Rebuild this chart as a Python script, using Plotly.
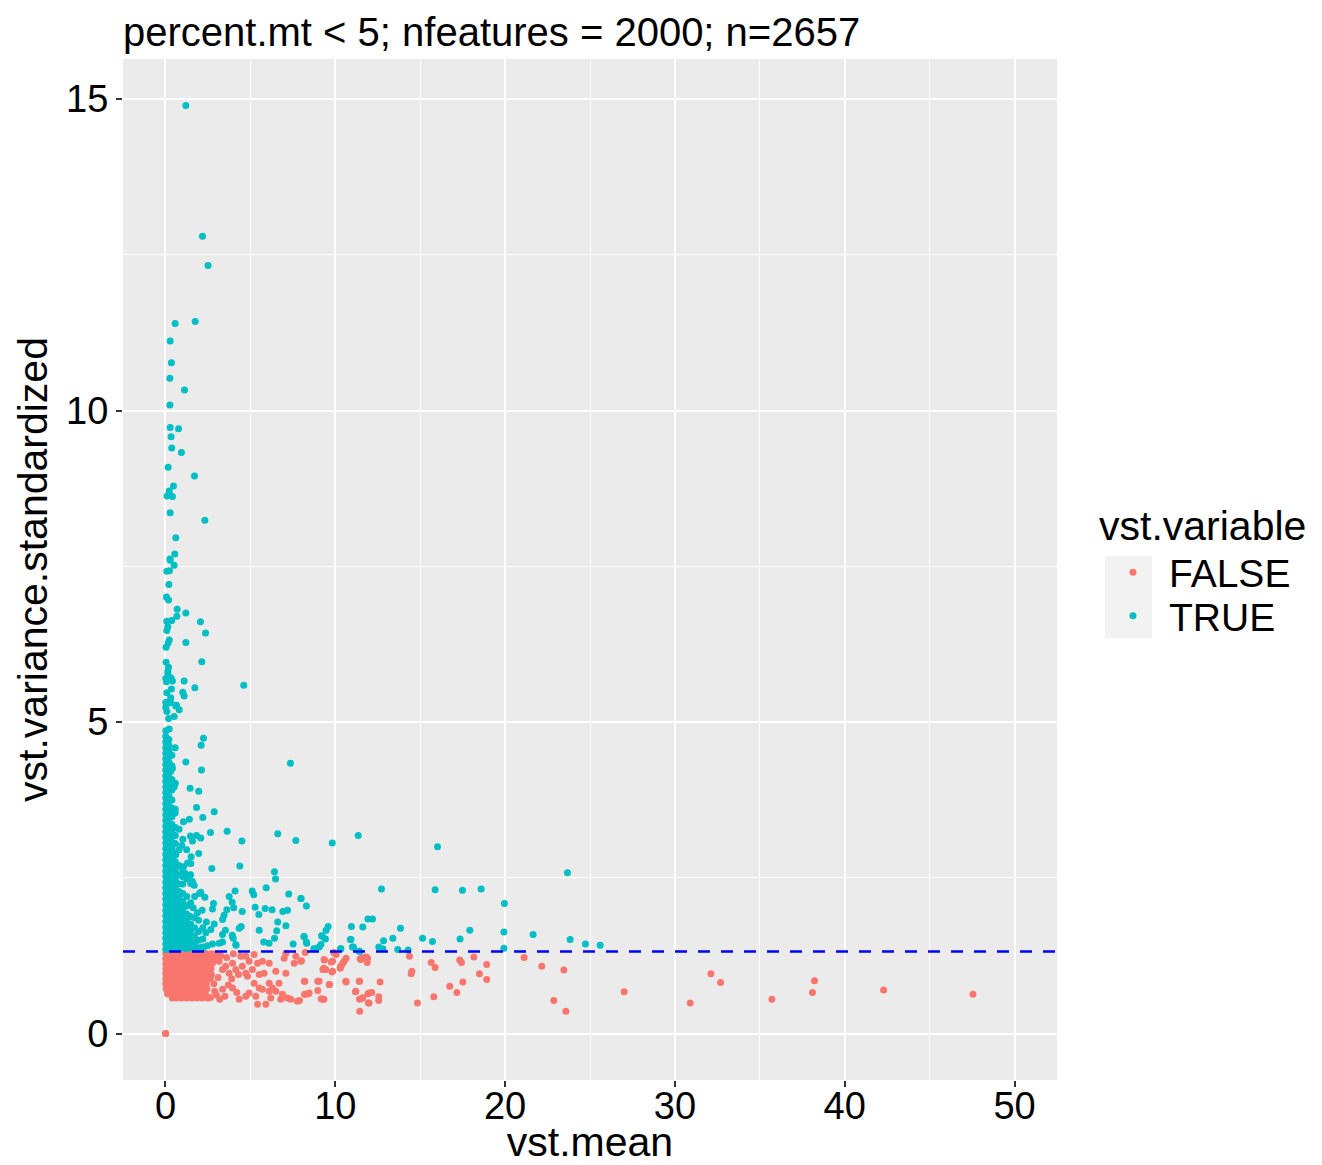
import plotly.graph_objects as go

# ---------------- data ----------------
# FALSE (not variable): scattered points (vst.mean, vst.variance.standardized)
false_sparse = [
    (0.00, 0.00), (0.02, 0.00),
    (2.77, 1.13), (3.16, 1.16), (3.36, 1.03), (3.55, 1.08), (3.75, 0.97), (3.95, 1.13),
    (4.14, 1.03), (4.44, 1.24), (4.73, 1.24), (4.93, 1.16), (5.22, 1.27), (4.53, 1.08),
    (4.73, 0.97), (5.12, 1.03), (5.42, 1.13), (5.71, 1.16), (6.11, 1.13), (4.83, 0.92),
    (5.22, 0.81), (5.52, 0.95), (5.81, 0.97), (6.11, 0.81), (6.50, 1.00), (7.09, 0.97),
    (6.99, 1.21), (7.09, 1.29), (7.68, 1.24), (7.58, 1.13), (7.97, 1.16), (8.17, 0.84),
    (8.46, 0.65), (8.26, 0.63), (9.05, 0.84), (9.25, 0.55), (9.34, 1.19), (9.84, 1.16),
    (9.44, 1.03), (9.84, 1.00), (9.64, 0.79), (10.33, 1.08), (10.52, 1.16), (10.62, 0.84),
    (11.21, 0.68), (11.41, 0.84), (11.50, 1.19), (11.90, 1.21), (11.99, 0.65), (11.60, 0.57),
    (11.99, 0.49), (3.36, 0.71), (3.95, 0.73), (4.34, 0.55), (4.73, 0.60), (4.93, 0.65),
    (5.32, 0.60), (5.42, 0.47), (5.91, 0.47), (5.52, 0.73), (5.71, 0.71), (6.11, 0.68),
    (6.30, 0.73), (6.69, 0.81), (6.79, 0.55), (7.18, 0.57), (7.38, 0.55), (7.77, 0.52),
    (6.20, 0.57), (6.50, 0.68), (6.89, 0.63),
    (2.70, 0.95), (2.85, 0.80), (3.00, 0.62), (3.10, 0.90), (3.25, 1.25), (2.95, 1.20),
    (3.50, 0.60), (3.70, 0.78), (3.90, 0.88), (4.20, 0.66), (4.30, 0.95), (2.65, 0.58),
    (3.20, 0.55), (2.90, 0.68), (3.60, 1.22), (4.00, 1.28),
    (8.23, 1.30), (8.01, 1.17), (7.89, 0.53), (8.21, 0.84), (8.19, 0.63), (8.42, 0.64),
    (8.97, 0.84), (8.97, 0.69), (9.17, 0.56), (9.33, 0.55), (9.36, 1.18), (9.33, 1.05),
    (9.27, 1.03), (9.76, 1.15), (9.80, 0.99), (9.66, 0.79), (9.91, 1.30), (10.05, 1.27),
    (10.64, 1.21), (10.44, 1.13), (10.34, 1.08), (10.29, 1.05), (10.64, 0.83), (11.19, 0.67),
    (11.43, 0.84), (11.43, 0.55), (11.62, 0.57), (11.44, 0.36), (11.46, 1.20), (11.62, 1.22),
    (11.82, 1.23), (11.88, 1.14), (11.95, 0.49), (11.92, 0.64), (12.15, 0.66), (12.56, 0.59),
    (12.56, 0.53), (12.64, 0.83), (14.37, 1.24), (14.51, 1.00), (14.47, 0.96), (14.84, 0.49),
    (15.65, 1.14), (15.88, 1.06), (15.80, 0.59), (16.74, 0.76), (17.16, 0.66), (17.33, 1.18),
    (17.43, 1.14), (17.51, 0.83), (18.16, 1.23), (18.49, 0.96), (18.92, 1.11), (18.92, 0.87),
    (21.12, 1.22), (22.16, 1.08), (22.87, 0.53), (23.46, 1.02), (23.58, 0.36), (27.01, 0.67),
    (30.90, 0.49), (32.12, 0.96), (32.69, 0.82), (35.71, 0.55), (38.10, 0.66), (38.22, 0.85),
    (42.29, 0.70), (47.55, 0.63),
]

# FALSE: dense block near the origin, read row by row (y: list of x)
false_dense_rows = {
    1.28: [0.02, 0.30, 0.60, 0.90, 1.20, 1.50, 1.80, 2.10, 2.40, 2.70, 3.00],
    1.20: [0.02, 0.30, 0.60, 0.90, 1.20, 1.50, 1.80, 2.10, 2.40, 2.75],
    1.12: [0.02, 0.30, 0.60, 0.90, 1.20, 1.50, 1.80, 2.10, 2.40, 2.62],
    1.04: [0.02, 0.30, 0.60, 0.90, 1.20, 1.50, 1.80, 2.10, 2.40, 2.68],
    0.96: [0.02, 0.30, 0.60, 0.90, 1.20, 1.50, 1.80, 2.10, 2.40, 2.60],
    0.88: [0.02, 0.30, 0.60, 0.90, 1.20, 1.50, 1.80, 2.10, 2.40, 2.64],
    0.80: [0.02, 0.30, 0.60, 0.90, 1.20, 1.50, 1.80, 2.10, 2.40],
    0.72: [0.04, 0.30, 0.60, 0.90, 1.20, 1.50, 1.80, 2.10, 2.45],
    0.64: [0.12, 0.35, 0.60, 0.90, 1.20, 1.50, 1.80, 2.10, 2.35],
    0.57: [0.40, 0.65, 0.95, 1.25, 1.55, 1.85, 2.15, 2.50],
}

# TRUE (variable): scattered points
true_sparse = [
    (1.20, 14.90), (2.18, 12.80), (2.51, 12.33), (0.57, 11.40), (1.75, 11.43), (0.28, 11.12),
    (0.35, 10.77), (0.26, 10.52), (1.12, 10.33), (0.26, 10.09), (0.28, 9.73), (0.77, 9.71),
    (0.33, 9.58), (0.37, 9.40), (0.94, 9.33), (0.16, 9.09), (1.71, 8.95), (0.47, 8.79),
    (0.22, 8.71), (0.10, 8.63), (0.41, 8.62), (0.28, 8.36), (2.32, 8.24), (0.61, 7.96),
    (0.55, 7.70), (0.26, 7.62), (0.28, 7.60), (0.51, 7.52), (0.08, 7.42), (0.24, 7.43),
    (0.20, 7.21), (0.06, 7.01), (0.18, 6.96), (0.69, 6.81), (1.20, 6.75), (0.67, 6.70),
    (0.08, 6.62), (0.37, 6.63), (2.06, 6.61), (0.14, 6.53), (0.08, 6.47), (2.36, 6.43),
    (0.22, 6.32), (0.16, 6.27), (1.20, 6.28), (0.04, 6.20), (0.04, 5.96), (2.14, 5.97),
    (0.18, 5.88), (0.14, 5.82), (0.14, 5.78), (0.02, 5.70), (0.24, 5.71), (0.33, 5.71),
    (0.06, 5.65), (0.41, 5.66), (1.10, 5.66), (4.61, 5.59), (1.73, 5.55), (0.35, 5.53),
    (0.08, 5.47), (1.02, 5.48), (1.10, 5.42), (0.31, 5.39), (0.02, 5.32), (0.26, 5.32),
    (0.65, 5.27), (0.31, 5.31), (0.61, 5.26), (0.81, 5.20), (0.08, 5.17), (0.51, 5.09),
    (0.18, 5.06), (0.02, 5.24), (0.22, 4.89),
    (2.24, 4.74), (2.10, 4.63), (0.57, 4.59), (1.20, 4.36), (7.36, 4.34), (2.12, 4.23),
    (0.41, 4.26), (0.31, 4.21), (1.45, 3.94), (1.96, 3.89), (0.51, 3.96), (1.83, 3.63),
    (2.87, 3.56), (0.57, 3.54), (2.20, 3.47), (1.41, 3.44), (1.06, 3.40), (2.65, 3.23),
    (3.63, 3.25), (6.61, 3.21), (1.47, 3.17), (1.59, 3.09), (1.83, 3.18), (2.08, 3.14),
    (4.50, 3.09), (7.68, 3.10), (0.96, 3.02), (1.96, 2.89), (1.51, 2.84), (0.61, 2.87),
    (1.30, 2.74), (1.49, 2.73), (1.06, 2.68), (4.38, 2.69), (2.73, 2.65), (6.42, 2.60),
    (6.48, 2.48), (1.16, 2.57), (1.00, 2.52), (1.59, 2.44), (1.49, 2.41), (1.69, 2.38),
    (5.93, 2.34), (4.10, 2.29), (5.11, 2.29), (5.20, 2.23), (2.08, 2.27), (2.00, 2.25),
    (2.32, 2.19), (7.26, 2.24), (3.75, 2.20), (7.97, 2.17), (2.83, 2.09), (3.93, 2.11),
    (8.30, 2.05), (5.28, 2.03), (5.87, 2.01), (6.28, 1.99), (6.91, 1.96), (7.19, 1.98),
    (2.77, 2.00), (3.61, 1.99), (4.02, 2.02), (4.52, 1.96), (2.16, 1.98), (1.63, 2.02),
    (1.88, 1.94), (5.50, 1.91), (3.45, 1.90), (3.36, 1.83), (2.41, 1.79), (2.87, 1.76),
    (2.67, 1.67), (6.61, 1.79), (7.09, 1.73), (4.46, 1.72), (4.34, 1.69), (5.52, 1.66),
    (3.53, 1.66), (6.55, 1.65), (3.93, 1.58), (3.99, 1.53), (6.42, 1.53), (8.17, 1.56),
    (5.79, 1.47), (6.10, 1.45), (7.52, 1.44), (4.16, 1.42), (8.30, 1.47), (8.76, 1.36),
    (9.05, 1.39), (3.36, 1.47), (3.16, 1.45), (2.77, 1.44), (2.47, 1.41), (2.18, 1.39),
    (2.38, 1.62), (3.36, 1.59), (3.95, 1.56), (4.14, 1.43), (9.15, 1.43), (9.25, 1.56),
    (10.33, 1.36), (10.92, 1.51), (11.01, 1.39), (11.41, 1.32),
    (9.82, 3.06), (11.35, 3.18), (16.02, 3.00), (23.67, 2.58), (12.72, 2.32), (15.88, 2.31),
    (17.49, 2.30), (18.59, 2.32), (19.96, 2.09), (7.99, 2.17), (11.92, 1.84), (12.19, 1.84),
    (10.95, 1.72), (11.62, 1.71), (9.58, 1.72), (9.46, 1.66), (13.84, 1.69), (17.92, 1.66),
    (19.93, 1.63), (21.65, 1.59), (8.15, 1.56), (9.19, 1.57), (9.42, 1.52), (10.89, 1.51),
    (12.84, 1.49), (13.39, 1.53), (15.14, 1.53), (15.72, 1.48), (17.35, 1.52), (23.83, 1.51),
    (24.73, 1.44), (25.60, 1.42), (8.32, 1.45), (8.74, 1.36), (10.31, 1.36), (11.07, 1.39),
    (11.43, 1.32), (12.56, 1.39), (12.80, 1.36), (13.68, 1.35), (14.29, 1.34), (19.93, 1.37),
]

# TRUE: dense column near x = 0, read column by column (x: list of y)
true_dense_cols = {
    0.02: [1.35, 1.44, 1.53, 1.62, 1.71, 1.80, 1.89, 1.98, 2.07, 2.16, 2.25, 2.34, 2.43, 2.52,
           2.61, 2.70, 2.79, 2.88, 2.97, 3.06, 3.15, 3.24, 3.33, 3.42, 3.51, 3.60, 3.69, 3.78,
           3.87, 3.96, 4.05, 4.14, 4.23, 4.32, 4.41, 4.50, 4.59, 4.68, 4.77, 4.86],
    0.20: [1.39, 1.48, 1.57, 1.66, 1.75, 1.84, 1.93, 2.02, 2.11, 2.20, 2.29, 2.38, 2.47, 2.56,
           2.65, 2.74, 2.83, 2.92, 3.01, 3.10, 3.19, 3.28, 3.37, 3.46, 3.55, 3.64, 3.73, 3.82,
           3.91, 4.00, 4.09, 4.18, 4.27, 4.36, 4.45, 4.54, 4.63, 4.72],
    0.38: [1.36, 1.45, 1.54, 1.63, 1.72, 1.81, 1.90, 1.99, 2.08, 2.17, 2.26, 2.35, 2.44, 2.53,
           2.62, 2.71, 2.80, 2.89, 2.98, 3.07, 3.16, 3.25, 3.36, 3.48, 3.62, 3.75, 3.91, 4.08,
           4.30, 4.47],
    0.58: [1.38, 1.47, 1.56, 1.65, 1.74, 1.83, 1.92, 2.01, 2.10, 2.19, 2.28, 2.37, 2.46, 2.55,
           2.64, 2.76, 2.90, 3.05, 3.18, 3.31, 3.60, 4.02],
    0.80: [1.36, 1.45, 1.54, 1.63, 1.72, 1.81, 1.90, 1.99, 2.08, 2.17, 2.28, 2.40, 2.55, 2.70,
           2.95, 3.28],
    1.02: [1.38, 1.47, 1.56, 1.65, 1.74, 1.83, 1.92, 2.01, 2.12, 2.25, 2.40, 2.62, 3.12],
    1.25: [1.36, 1.45, 1.54, 1.63, 1.72, 1.81, 1.92, 2.05, 2.20, 2.48, 2.95],
    1.48: [1.38, 1.47, 1.56, 1.65, 1.76, 1.88, 2.10, 2.55],
    1.72: [1.36, 1.46, 1.57, 1.70, 1.86, 2.20],
    1.95: [1.38, 1.50, 1.64, 1.82],
    2.20: [1.37, 1.52, 1.70],
}

threshold = 1.316
title_text = "percent.mt < 5; nfeatures = 2000; n=2657"
x_ticks = [0, 10, 20, 30, 40, 50]
y_ticks = [0, 5, 10, 15]

# ---------------- assemble ----------------
fx = [p[0] for p in false_sparse]
fy = [p[1] for p in false_sparse]
for yv, xs in false_dense_rows.items():
    fx += xs
    fy += [yv] * len(xs)

tx = []
ty = []
for xv, ys in true_dense_cols.items():
    tx += [xv] * len(ys)
    ty += ys
tx += [p[0] for p in true_sparse]
ty += [p[1] for p in true_sparse]

FONT = "Liberation Sans, Arial, Helvetica, sans-serif"

# figure geometry (page adds an 8px body margin)
W, H = 1314, 1157
ML, MR, MT, MB = 115, 265, 51, 85
PW, PH = W - ML - MR, H - MT - MB


def px_x(fig_x):
    return (fig_x - ML) / PW


def px_y(fig_y):
    return (H - MB - fig_y) / PH


fig = go.Figure()
fig.add_trace(go.Scatter(x=fx, y=fy, mode="markers", name="FALSE", legend="legend",
                         marker=dict(color="#F8766D", size=7, line=dict(width=0))))
fig.add_trace(go.Scatter(x=tx, y=ty, mode="markers", name="TRUE", legend="legend2",
                         marker=dict(color="#00BFC4", size=7, line=dict(width=0))))

fig.add_shape(type="line", xref="paper", x0=0, x1=1, yref="y", y0=threshold, y1=threshold,
              line=dict(color="blue", width=2.5, dash="12px,11px"), layer="above")

# legend key background
fig.add_shape(type="rect", xref="paper", yref="paper",
              x0=px_x(1097), x1=px_x(1144), y0=px_y(630), y1=px_y(548),
              fillcolor="#F2F2F2", line=dict(width=0), layer="below")

axis_common = dict(showgrid=True, gridcolor="white", gridwidth=2.2, zeroline=False,
                   ticks="outside", ticklen=6, tickwidth=2, tickcolor="#333333",
                   tickfont=dict(family=FONT, size=38, color="black"),
                   showline=False)

legend_common = dict(xanchor="left", yanchor="top", bgcolor="rgba(0,0,0,0)",
                     font=dict(family=FONT, size=39, color="black"),
                     itemsizing="trace", itemwidth=62)

fig.update_layout(
    width=W, height=H,
    margin=dict(l=ML, r=MR, t=MT, b=MB, autoexpand=False),
    paper_bgcolor="white", plot_bgcolor="#EBEBEB",
    font=dict(family=FONT, color="black"),
    title=dict(text=title_text, x=0, xref="paper", xanchor="left",
               y=1, yref="container", yanchor="top", pad=dict(t=10, b=0),
               font=dict(family=FONT, size=40, color="black")),
    xaxis=dict(range=[-2.5, 52.5], tickvals=x_ticks, ticklabelstandoff=-14,
               minor=dict(dtick=5, tick0=0, showgrid=True, gridcolor="white", gridwidth=1.1, ticks=""),
               title=dict(text="vst.mean", font=dict(family=FONT, size=41), standoff=16),
               **axis_common),
    yaxis=dict(range=[-0.745, 15.645], tickvals=y_ticks,
               minor=dict(dtick=2.5, tick0=0, showgrid=True, gridcolor="white", gridwidth=1.1, ticks=""),
               title=dict(text="vst.variance.standardized", font=dict(family=FONT, size=41), standoff=5),
               **axis_common),
    legend=dict(x=px_x(1089), y=px_y(479),
                title=dict(text="vst.variable", font=dict(family=FONT, size=41, color="black")),
                **legend_common),
    legend2=dict(x=px_x(1089), y=px_y(576), **legend_common),
    showlegend=True,
)

fig.write_html("out.html")
